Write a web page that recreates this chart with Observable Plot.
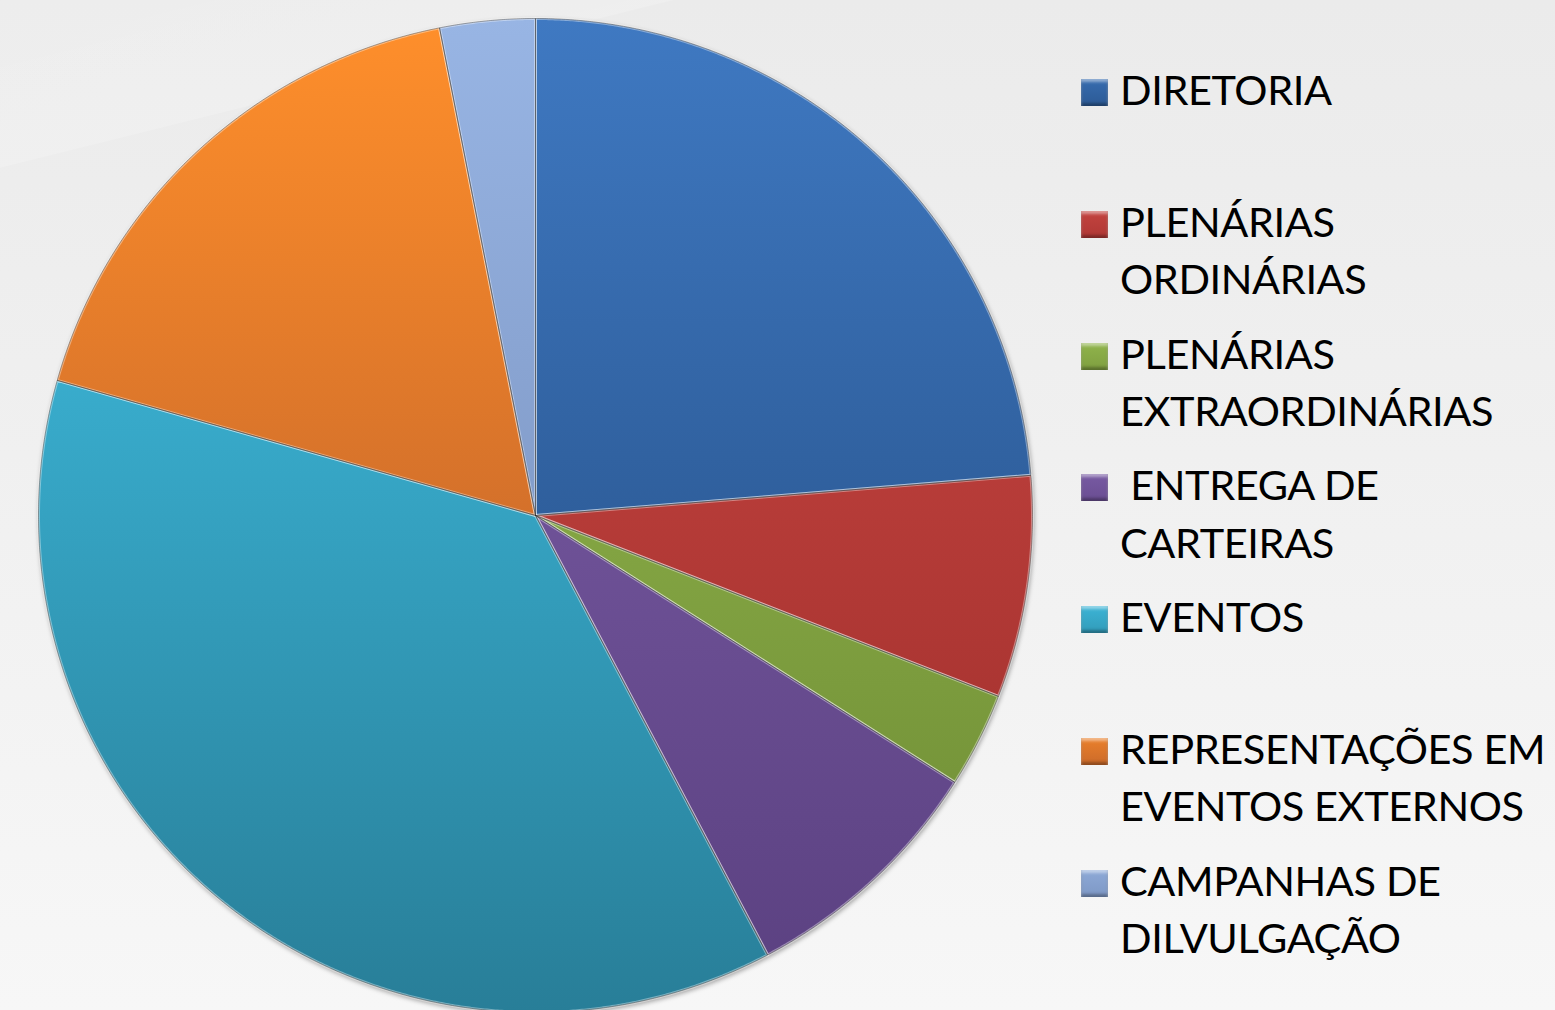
<!DOCTYPE html>
<html>
<head>
<meta charset="utf-8">
<script src="https://cdn.jsdelivr.net/npm/d3@7"></script>
<script src="https://cdn.jsdelivr.net/npm/@observablehq/plot@0.6"></script>
<style>
  html, body { margin: 0; padding: 0; width: 1555px; height: 1010px; overflow: hidden; }
  body {
    position: relative;
    background: linear-gradient(to bottom, #ebebeb 0%, #f0f0f0 45%, #f7f7f7 100%);
    font-family: Lato, "Open Sans", sans-serif;
  }
  #glare {
    position: absolute; left: -200px; top: -260px; width: 900px; height: 360px;
    background: linear-gradient(to bottom, rgba(255,255,255,0.0), rgba(255,255,255,0.18));
    transform: rotate(-14deg);
  }
  #chart { position: absolute; left: 0; top: 0; }
  .pie > g:first-of-type { filter: drop-shadow(1px 2px 2px rgba(0,0,0,0.35)); }
  #legend { position: absolute; left: 1081px; top: 61px; }
  .item { display: flex; height: 131.8px; }
  .sw { width: 27px; height: 27px; margin-top: 18px; flex: none; box-sizing: border-box;
        box-shadow: inset 0 3px 3px rgba(255,255,255,0.45), inset 0 -3px 3px rgba(0,0,0,0.3); }
  .lab { margin-left: 12px; font-size: 41.5px; letter-spacing: -0.4px; line-height: 57.5px; color: #000; white-space: pre; }
</style>
</head>
<body>
<div id="glare"></div>
<div id="chart"></div>
<div id="legend"></div>
<script>
// ---- data ----
const categories = [
  "DIRETORIA",
  "PLENÁRIAS ORDINÁRIAS",
  "PLENÁRIAS EXTRAORDINÁRIAS",
  " ENTREGA DE CARTEIRAS",
  "EVENTOS",
  "REPRESENTAÇÕES EM EVENTOS EXTERNOS",
  "CAMPANHAS DE DILVULGAÇÃO"
];
const legendLabels = [
  "DIRETORIA",
  "PLENÁRIAS\nORDINÁRIAS",
  "PLENÁRIAS\nEXTRAORDINÁRIAS",
  " ENTREGA DE\nCARTEIRAS",
  "EVENTOS",
  "REPRESENTAÇÕES EM\nEVENTOS EXTERNOS",
  "CAMPANHAS DE\nDILVULGAÇÃO"
];
const values = [23, 7, 3, 8, 36, 17, 3];
const colorsLight = ["#3f79c2", "#d04a46", "#9cc254", "#8263ae", "#42c6ea", "#ff8f2b", "#98b5e4"];
const colorsDark  = ["#1f4577", "#9a2c29", "#6b8832", "#5a4080", "#287e98", "#a9522a", "#6d84b0"];

// ---- geometry from d3.pie (angles from 12 o'clock, clockwise) ----
const arcs = d3.pie().sort(null).value(d => d)(values);
const rows = [];
arcs.forEach((a, i) => {
  const cat = categories[i];
  rows.push({cat, x: 0, y: 0});
  const n = Math.max(2, Math.ceil((a.endAngle - a.startAngle) / (Math.PI / 720)));
  for (let k = 0; k <= n; ++k) {
    const t = a.startAngle + (a.endAngle - a.startAngle) * k / n;
    rows.push({cat, x: Math.sin(t), y: Math.cos(t)});
  }
  rows.push({cat, x: 0, y: 0});
});

const gradIds = categories.map((_, i) => `url(#pieGrad${i})`);

const chart = Plot.plot({
  width: 1070,
  height: 1012,
  marginLeft: 38,
  marginRight: 38,
  marginTop: 18,
  marginBottom: 0,
  className: "pie",
  style: "background: transparent; overflow: visible;",
  x: {domain: [-1, 1], axis: null},
  y: {domain: [-1, 1], axis: null},
  color: {domain: categories, range: gradIds},
  marks: [
    Plot.line(rows, {x: "x", y: "y", z: "cat", fill: "cat", stroke: "rgba(255,255,255,0.38)", strokeWidth: 3, strokeLinejoin: "round"}),
    Plot.line(rows, {x: "x", y: "y", z: "cat", fill: "none", stroke: "#2a2a2a", strokeOpacity: 0.45, strokeWidth: 0.9})
  ]
});

// gradient definitions, positioned with the chart's own y scale
const yScale = chart.scale("y");
const yTop = yScale.apply(1), yBottom = yScale.apply(-1);
const NS = "http://www.w3.org/2000/svg";
const defs = document.createElementNS(NS, "defs");
categories.forEach((_, i) => {
  const g = document.createElementNS(NS, "linearGradient");
  g.setAttribute("id", `pieGrad${i}`);
  g.setAttribute("gradientUnits", "userSpaceOnUse");
  g.setAttribute("x1", 0); g.setAttribute("x2", 0);
  g.setAttribute("y1", yTop); g.setAttribute("y2", yBottom);
  [[0, colorsLight[i]], [1, colorsDark[i]]].forEach(([o, c]) => {
    const s = document.createElementNS(NS, "stop");
    s.setAttribute("offset", o);
    s.setAttribute("stop-color", c);
    g.appendChild(s);
  });
  defs.appendChild(g);
});
chart.insertBefore(defs, chart.firstChild);
document.getElementById("chart").appendChild(chart);

// legend
const legend = d3.select("#legend");
categories.forEach((c, i) => {
  const item = legend.append("div").attr("class", "item");
  item.append("div").attr("class", "sw")
    .style("background", `linear-gradient(to bottom, ${d3.interpolateRgb(colorsLight[i], colorsDark[i])(0.25)}, ${d3.interpolateRgb(colorsLight[i], colorsDark[i])(0.6)})`);
  item.append("div").attr("class", "lab").text(legendLabels[i]);
});
</script>
</body>
</html>
